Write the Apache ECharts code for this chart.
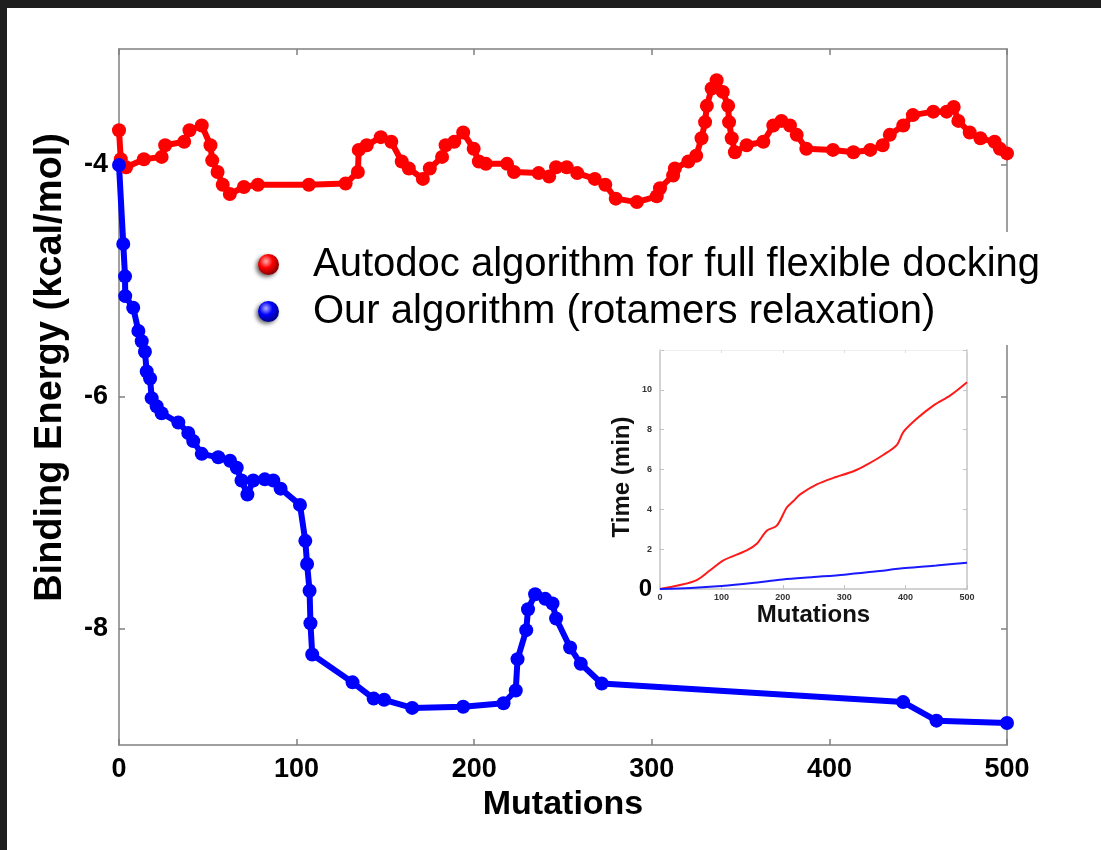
<!DOCTYPE html>
<html>
<head>
<meta charset="utf-8">
<script src="https://cdn.jsdelivr.net/npm/echarts@6/dist/echarts.min.js"></script>
<style>
  html, body { margin: 0; padding: 0; background: #fff; }
  #main { width: 1101px; height: 850px; }
</style>
</head>
<body>
<div id="main"></div>
<script>
const AUTODOCK_NAME = "Autodoc algorithm for full flexible docking";
const OUR_NAME = "Our algorithm (rotamers relaxation)";

// main plot: binding energy vs mutations
const autodockMutations = [0, 1, 4, 14, 24, 26, 36.7, 39.7, 46.6, 51.5, 52.5, 55.5, 58.4, 62.4, 70.3, 78.2, 106.9, 127.6, 134.5, 135, 139.5, 147.4, 153.3, 159.2, 163.2, 171.1, 175, 181.9, 183.9, 188.8, 193.8, 199.7, 202.6, 206.6, 218.5, 222.4, 236.3, 242.2, 246.1, 252.1, 258, 267.9, 273.8, 279.7, 291.6, 302.8, 304.6, 312, 313, 320.6, 325, 328, 330, 331, 333.7, 336.5, 340, 343, 343.5, 345, 346.8, 353.4, 362.8, 368.4, 373, 377.8, 381.6, 387, 402, 413.5, 423, 430, 434, 441.6, 447, 458.5, 466, 470, 472.6, 479, 485, 493, 496, 500];
const autodockEnergy = [-3.70, -3.95, -4.02, -3.95, -3.93, -3.83, -3.80, -3.70, -3.66, -3.83, -3.96, -4.06, -4.17, -4.25, -4.19, -4.17, -4.17, -4.16, -4.06, -3.87, -3.83, -3.76, -3.80, -3.97, -4.03, -4.12, -4.03, -3.93, -3.83, -3.80, -3.72, -3.86, -3.97, -3.99, -3.99, -4.06, -4.07, -4.10, -4.02, -4.02, -4.07, -4.12, -4.17, -4.29, -4.32, -4.27, -4.20, -4.09, -4.03, -3.97, -3.92, -3.77, -3.63, -3.49, -3.34, -3.27, -3.37, -3.49, -3.63, -3.77, -3.89, -3.83, -3.80, -3.66, -3.62, -3.66, -3.74, -3.86, -3.87, -3.89, -3.87, -3.83, -3.74, -3.66, -3.57, -3.54, -3.54, -3.50, -3.62, -3.72, -3.77, -3.80, -3.86, -3.90];

const ourMutations = [0, 2.4, 3.4, 3.5, 8, 10.9, 12.8, 14.6, 15.6, 17.5, 18.4, 21.2, 24, 33.4, 39, 41.8, 46.6, 55.9, 62.5, 66.3, 69, 72.3, 75.6, 82.1, 86.9, 91, 101.9, 104.9, 105.9, 107.3, 107.8, 108.8, 131.5, 143.4, 149.3, 165.1, 193.8, 216.5, 223.4, 224.4, 229.3, 230.3, 234.3, 240, 244.1, 246.1, 254, 260, 271.8, 441.5, 460.3, 500];
const ourEnergy = [-4.0, -4.68, -4.96, -5.13, -5.23, -5.43, -5.52, -5.61, -5.78, -5.84, -6.01, -6.08, -6.14, -6.22, -6.31, -6.38, -6.49, -6.52, -6.55, -6.61, -6.72, -6.84, -6.72, -6.71, -6.72, -6.79, -6.93, -7.24, -7.44, -7.67, -7.95, -8.22, -8.46, -8.60, -8.61, -8.68, -8.67, -8.64, -8.53, -8.26, -8.01, -7.83, -7.70, -7.74, -7.78, -7.91, -8.16, -8.30, -8.47, -8.63, -8.79, -8.81];

const energyTicks = [-8, -6, -4];

// inset: running time vs mutations
const autodockTimeMutations = [0, 32.6, 59.8, 81.5, 103.3, 141.3, 157.6, 173.9, 190.2, 206.5, 217.4, 228.3, 255.4, 282.6, 315.2, 337, 364.1, 385.9, 396.8, 418.5, 445.7, 472.9, 500];
const autodockTime = [0, 0.2, 0.45, 0.94, 1.44, 1.94, 2.27, 2.93, 3.18, 4.09, 4.42, 4.75, 5.25, 5.58, 5.91, 6.24, 6.74, 7.24, 7.9, 8.56, 9.22, 9.72, 10.38];
const ourTimeMutations = [0, 50, 100, 150, 200, 250, 300, 350, 400, 450, 500];
const ourTime = [0, 0.05, 0.15, 0.3, 0.48, 0.6, 0.72, 0.88, 1.05, 1.18, 1.32];

const zip = (xs, ys) => xs.map((x, i) => [x, ys[i]]);

const FONT = "Liberation Sans, Arial, sans-serif";
const axisGray = "#808080";
const insetGray = "#c4c4c4";

function ball(light, mid, dark) {
  return {
    type: "radial", x: 0.38, y: 0.35, r: 0.7,
    colorStops: [
      { offset: 0, color: light },
      { offset: 0.45, color: mid },
      { offset: 1, color: dark },
    ],
  };
}

const myChart = echarts.init(document.getElementById("main"));

myChart.setOption({
  animation: false,
  backgroundColor: "#fff",
  textStyle: { fontFamily: FONT },
  graphic: [
    { type: "rect", left: 0, top: 0, shape: { width: 1101, height: 8 }, style: { fill: "#1e1e1e" } },
    { type: "rect", left: 0, top: 0, shape: { width: 7, height: 850 }, style: { fill: "#1e1e1e" } },
  ],
  grid: [
    { left: 119, top: 49, right: 94, bottom: 105 },
    { left: 660, top: 350, right: 134, bottom: 261 },
  ],
  legend: {
    data: [
      { name: AUTODOCK_NAME, itemStyle: { color: ball("#ffb0b0", "#ff0000", "#7a0000"), shadowBlur: 4, shadowColor: "rgba(0,0,0,0.6)", shadowOffsetX: -2, shadowOffsetY: 2 } },
      { name: OUR_NAME, itemStyle: { color: ball("#b0b0ff", "#0000ff", "#00007a"), shadowBlur: 4, shadowColor: "rgba(0,0,0,0.6)", shadowOffsetX: -2, shadowOffsetY: 2 } },
    ],
    orient: "vertical",
    left: 247,
    top: 232,
    padding: [9, 6, 10, 11],
    backgroundColor: "#fff",
    itemWidth: 21,
    itemHeight: 21,
    itemGap: 0,
    icon: "circle",
    selectedMode: false,
    lineStyle: { width: 0, opacity: 0 },
    formatter: (name) => "{gap|}" + name,
    textStyle: {
      fontSize: 40,
      color: "#000",
      lineHeight: 47,
      rich: { gap: { width: 29 } },
    },
    z: 10,
  },
  xAxis: [
    {
      gridIndex: 0, type: "value", position: "bottom", min: 0, max: 500, interval: 100,
      axisLine: { onZero: false, lineStyle: { color: axisGray, width: 1.5 } },
      axisTick: { inside: true, length: 6, lineStyle: { color: axisGray, width: 1.5 } },
      axisLabel: { fontSize: 27, fontWeight: "bold", color: "#000", margin: 11 },
      splitLine: { show: false },
      name: "Mutations", nameLocation: "middle", nameGap: 41,
      nameTextStyle: { fontSize: 34, fontWeight: "bold", color: "#000" },
    },
    {
      gridIndex: 0, type: "value", position: "top", min: 0, max: 500, interval: 100,
      axisLine: { onZero: false, lineStyle: { color: axisGray, width: 1.5 } },
      axisTick: { inside: true, length: 6, lineStyle: { color: axisGray, width: 1.5 } },
      axisLabel: { show: false },
      splitLine: { show: false },
    },
    {
      gridIndex: 1, type: "value", position: "bottom", min: 0, max: 500, interval: 100,
      axisLine: { onZero: false, lineStyle: { color: insetGray, width: 1.5 } },
      axisTick: { inside: true, length: 4, lineStyle: { color: insetGray } },
      axisLabel: { fontSize: 9, fontWeight: "bold", color: "#333", margin: 4 },
      splitLine: { show: false },
      name: "Mutations", nameLocation: "middle", nameGap: 12,
      nameTextStyle: { fontSize: 24, fontWeight: "bold", color: "#111" },
    },
    {
      gridIndex: 1, type: "value", position: "top", min: 0, max: 500, interval: 100,
      axisLine: { onZero: false, lineStyle: { color: "#eee", width: 1 } },
      axisTick: { inside: true, length: 3, lineStyle: { color: "#ddd" } },
      axisLabel: { show: false },
      splitLine: { show: false },
    },
  ],
  yAxis: [
    {
      gridIndex: 0, type: "value", position: "left", min: -9, max: -3, interval: 1,
      axisLine: { show: true, onZero: false, lineStyle: { color: axisGray, width: 1.5 } },
      axisTick: { show: true, inside: true, length: 6, customValues: energyTicks, lineStyle: { color: axisGray, width: 1.5 } },
      axisLabel: { fontSize: 27, fontWeight: "bold", color: "#000", margin: 11, customValues: energyTicks },
      splitLine: { show: false },
      name: "Binding Energy (kcal/mol)", nameLocation: "middle", nameGap: 49,
      nameTextStyle: { fontSize: 38, fontWeight: "bold", color: "#000", padding: [0, 0, 0, 59] },
    },
    {
      gridIndex: 0, type: "value", position: "right", min: -9, max: -3, interval: 1,
      axisLine: { show: true, onZero: false, lineStyle: { color: axisGray, width: 1.5 } },
      axisTick: { show: true, inside: true, length: 6, customValues: energyTicks, lineStyle: { color: axisGray, width: 1.5 } },
      axisLabel: { show: false },
      splitLine: { show: false },
    },
    {
      gridIndex: 1, type: "value", position: "left", min: 0, max: 12, interval: 2,
      axisLine: { show: true, onZero: false, lineStyle: { color: insetGray, width: 1.5 } },
      axisTick: { show: true, inside: true, length: 4, lineStyle: { color: insetGray } },
      axisLabel: {
        fontSize: 9, fontWeight: "bold", color: "#333", margin: 8,
        formatter: (v) => (v === 0 ? "{big|0}" : v === 12 ? "" : String(v)),
        rich: { big: { fontSize: 24, fontWeight: "bold", color: "#000" } },
      },
      splitLine: { show: false },
      name: "Time (min)", nameLocation: "middle", nameGap: 18,
      nameTextStyle: { fontSize: 24, fontWeight: "bold", color: "#111", padding: [0, 15, 0, 0] },
    },
    {
      gridIndex: 1, type: "value", position: "right", min: 0, max: 12, interval: 2,
      axisLine: { show: true, onZero: false, lineStyle: { color: insetGray, width: 1.5 } },
      axisTick: { show: true, inside: true, length: 4, lineStyle: { color: insetGray } },
      axisLabel: { show: false },
      splitLine: { show: false },
    },
  ],
  series: [
    {
      name: AUTODOCK_NAME, type: "line", xAxisIndex: 0, yAxisIndex: 0,
      data: zip(autodockMutations, autodockEnergy),
      symbol: "circle", symbolSize: 14, showSymbol: true,
      lineStyle: { color: "#ff0000", width: 6 },
      itemStyle: { color: "#ff0000" },
      z: 3,
    },
    {
      name: OUR_NAME, type: "line", xAxisIndex: 0, yAxisIndex: 0,
      data: zip(ourMutations, ourEnergy),
      symbol: "circle", symbolSize: 14, showSymbol: true,
      lineStyle: { color: "#0000ff", width: 6 },
      itemStyle: { color: "#0000ff" },
      z: 3,
    },
    {
      name: "Autodoc time", type: "line", xAxisIndex: 2, yAxisIndex: 2,
      data: zip(autodockTimeMutations, autodockTime),
      showSymbol: false, smooth: 0.3,
      lineStyle: { color: "#ff1a1a", width: 2 },
      itemStyle: { color: "#ff1a1a" },
    },
    {
      name: "Our time", type: "line", xAxisIndex: 2, yAxisIndex: 2,
      data: zip(ourTimeMutations, ourTime),
      showSymbol: false, smooth: 0.3,
      lineStyle: { color: "#1a1aff", width: 2 },
      itemStyle: { color: "#1a1aff" },
    },
  ],
});
</script>
</body>
</html>
